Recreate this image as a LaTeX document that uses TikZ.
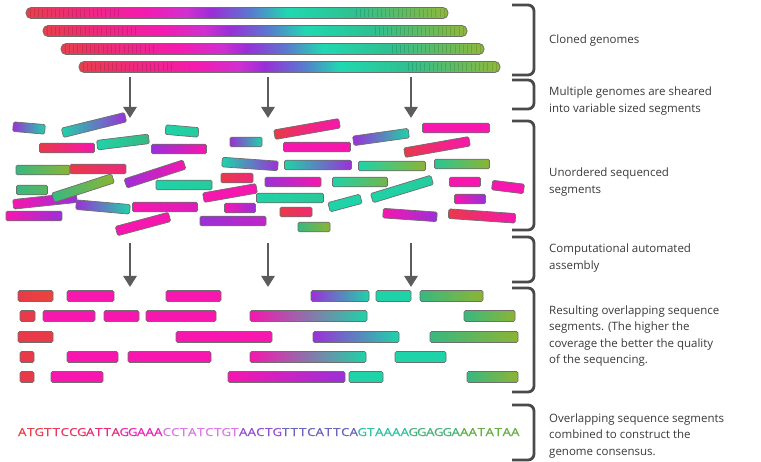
\documentclass[tikz,border=0pt]{standalone}
\usepackage{fontspec}
\newfontfamily\labelfont{Open Sans}
\newfontfamily\seqfont[FakeBold=0.5]{Open Sans}
\usetikzlibrary{arrows.meta}
% palette
\definecolor{cR}{HTML}{E83A48}
\definecolor{cM}{HTML}{F716AE}
\definecolor{cP}{HTML}{9B30D8}
\definecolor{cT}{HTML}{1ED3A8}
\definecolor{cG}{HTML}{38B880}
\definecolor{cO}{HTML}{8CB434}
\definecolor{bdr}{HTML}{6E6E6E}
\definecolor{ink}{HTML}{3A3A3A}
\definecolor{brk}{HTML}{4A4A4A}
% genome gradient
\definecolor{gA}{HTML}{E8404C}
\definecolor{gA2}{HTML}{EC2E72}
\definecolor{gM}{HTML}{F41AB0}
\definecolor{gMP}{HTML}{D030D0}
\definecolor{gP}{HTML}{9A2ED8}
\definecolor{gB}{HTML}{5A78D0}
\definecolor{gT}{HTML}{20D8B0}
\definecolor{gG}{HTML}{2EC090}
\definecolor{gO}{HTML}{90B838}
\pgfdeclarehorizontalshading{genome}{100bp}{color(0bp)=(gA); color(25bp)=(gA); color(30bp)=(gA2); color(39bp)=(gM); color(44bp)=(gMP); color(47bp)=(gP); color(51.5bp)=(gB); color(56bp)=(gT); color(64bp)=(gG); color(75bp)=(gO); color(100bp)=(gO)}
% sequence colours
\definecolor{sA}{HTML}{E8404A}
\definecolor{sB}{HTML}{E8307A}
\definecolor{sC}{HTML}{EC28B8}
\definecolor{sD}{HTML}{DC78E8}
\definecolor{sE}{HTML}{9550D2}
\definecolor{sF}{HTML}{6A64BC}
\definecolor{sG}{HTML}{2EC4A4}
\definecolor{sH}{HTML}{46B47A}
\definecolor{sI}{HTML}{64B040}

\tikzset{
  segbox/.style={draw=bdr, line width=0.7, rounded corners=1.5},
  barbox/.style={draw=bdr, line width=0.8, rounded corners=5, shading=genome},
  arr/.style={draw=brk!90!white, line width=2.6, -{Triangle[width=13,length=11]}},
  bracket/.style={draw=brk, line width=2.8, rounded corners=6},
  stripe/.style={black, opacity=0.13, line width=0.6},
  lab/.style={anchor=west, align=left, text=ink, inner sep=0,
    font={\labelfont\fontsize{11.5}{16.2}\selectfont}},
  seqch/.style={anchor=base, inner sep=0, font={\seqfont\fontsize{11}{12}\selectfont}}
}
% rotated segment: cx, cy, length, angle, shading keys
\newcommand\seg[5]{%
  \begin{scope}[shift={(#1,#2)},rotate=#4]
    \shadedraw[segbox,#5] ({-#3/2},-4.8) rectangle ({#3/2},4.8);
  \end{scope}}
% row segment: x1, x2, y, shading keys
\newcommand\rseg[4]{%
  \shadedraw[segbox,#4] (#1,{#3-5.5}) rectangle (#2,{#3+5.5});}
% genome bar: x1, x2, cy
\newcommand\genbar[3]{%
  \shadedraw[barbox] (#1,{#3-5.5}) rectangle (#2,{#3+5.5});
  \pgfmathtruncatemacro\gn{(0.22*(#2-#1)-4)/4.2}
  \foreach \k in {0,...,\gn} {
    \draw[stripe] ({#1+4+4.2*\k},{#3-4}) -- ({#1+4+4.2*\k},{#3+4});
    \draw[stripe] ({#2-4-4.2*\k},{#3-4}) -- ({#2-4-4.2*\k},{#3+4});
  }}

\begin{document}
\begin{tikzpicture}[x=1pt,y=-1pt]
\useasboundingbox[fill=white] (0,0) rectangle (761,462);

% cloned genomes
\genbar{26}{448}{13}
\genbar{43}{467}{31}
\genbar{61}{484}{49}
\genbar{79}{500}{67}

% arrows
\coordinate (a1s) at (130,77); \coordinate (a1e) at (130,118);
\coordinate (a2s) at (268,77); \coordinate (a2e) at (268,118);
\coordinate (a3s) at (411,77); \coordinate (a3e) at (411,118);
\coordinate (b1s) at (130,243); \coordinate (b1e) at (130,287);
\coordinate (b2s) at (268,243); \coordinate (b2e) at (268,287);
\coordinate (b3s) at (411,243); \coordinate (b3e) at (411,287);
\draw[arr] (a1s) -- (a1e);
\draw[arr] (a2s) -- (a2e);
\draw[arr] (a3s) -- (a3e);
\draw[arr] (b1s) -- (b1e);
\draw[arr] (b2s) -- (b2e);
\draw[arr] (b3s) -- (b3e);

% unordered segments
\seg{29}{128}{32}{-5}{left color=cP,right color=cT}
\seg{94}{125}{65}{14}{left color=cT,middle color=cT,right color=cP}
\seg{67}{148}{55}{0}{left color=cR,right color=cM}
\seg{123}{142}{52}{7}{left color=cT,right color=cG}
\seg{182}{131}{33}{-5}{left color=cT,right color=cT!75!cG}
\seg{179}{149}{55}{0}{left color=cP,right color=cM}
\seg{246}{142}{32}{0}{left color=cP,right color=cT}
\seg{43}{170}{54}{0}{left color=cG,right color=cO}
\seg{98}{169}{56}{0}{left color=cR,right color=cR!50!cM}
\seg{155}{174}{62}{18}{left color=cP,right color=cM}
\seg{184}{185}{56}{0}{left color=cT,right color=cT!70!cG}
\seg{237}{178}{32}{0}{left color=cR,right color=cR!50!cM}
\seg{250}{164}{56}{-4}{left color=cT,middle color=cT,right color=cP}
\seg{32}{190}{31}{0}{left color=cG,right color=cG!60!cO}
\seg{45}{201}{64}{6}{left color=cM,middle color=cM,right color=cP}
\seg{83}{188}{63}{18}{left color=cG,right color=cO}
\seg{103}{207}{54}{-5}{left color=cP,right color=cT}
\seg{165}{207}{65}{0}{left color=cM,right color=cM!70!cP}
\seg{230}{193}{54}{10}{left color=cM,right color=cM}
\seg{240}{208}{31}{0}{left color=cM,right color=cP}
\seg{34}{216}{56}{0}{left color=cM,right color=cP}
\seg{143}{224}{55}{15}{left color=cM,right color=cM}
\seg{233}{221}{66}{0}{left color=cP,right color=cP!60!cM}
\seg{307}{129}{66}{10}{left color=cR,right color=cM}
\seg{381}{137}{56}{8}{left color=cP,middle color=cT,right color=cT}
\seg{456}{128}{67}{0}{left color=cM,right color=cM}
\seg{317}{147}{67}{0}{left color=cM,right color=cM}
\seg{437}{147}{66}{10}{left color=cR,right color=cM}
\seg{318}{165}{67}{0}{left color=cT,middle color=cT,right color=cP}
\seg{392}{166}{67}{0}{left color=cT,right color=cO}
\seg{462}{164}{55}{0}{left color=cT!50!cG,right color=cO}
\seg{293}{182}{56}{0}{left color=cP,right color=cM}
\seg{360}{182}{55}{0}{left color=cT,right color=cO!70!cG}
\seg{402}{189}{63}{17}{left color=cT,right color=cT!70!cG}
\seg{465}{182}{31}{0}{left color=cM,right color=cM}
\seg{508}{187}{32}{-7}{left color=cM,right color=cM}
\seg{290}{198}{67}{0}{left color=cT,right color=cT!60!cG}
\seg{345}{203}{33}{15}{left color=cT,right color=cT}
\seg{470}{199}{31}{0}{left color=cM,right color=cP}
\seg{296}{212}{32}{0}{left color=cR,right color=cR!60!cM}
\seg{410}{215}{54}{-4}{left color=cM,right color=cP}
\seg{482}{216}{67}{-4}{left color=cR,right color=cM}
\seg{314}{227}{32}{0}{left color=cG,right color=cO}

% overlapping segments
\rseg{18}{53}{296}{left color=cR,right color=cR!85!orange}
\rseg{67}{114}{296}{left color=cM,right color=cM}
\rseg{166}{221}{296}{left color=cM,right color=cM}
\rseg{311}{369}{296}{left color=cP,middle color=cP!60!cT,right color=cT}
\rseg{376}{411}{296}{left color=cT,right color=cT}
\rseg{420}{483}{296}{left color=cG,right color=cO}
\rseg{20}{35}{316}{left color=cR,right color=cR}
\rseg{43}{95}{316}{left color=cM,right color=cM}
\rseg{104}{139}{316}{left color=cM,right color=cM}
\rseg{146}{216}{316}{left color=cM,right color=cM}
\rseg{250}{367}{316}{left color=cM,middle color=cP,right color=cT}
\rseg{464}{515}{316}{left color=cG,right color=cO}
\rseg{18}{53}{337}{left color=cR,right color=cR}
\rseg{176}{272}{337}{left color=cM,right color=cM}
\rseg{313}{399}{337}{left color=cP,middle color=cP!50!cT,right color=cT}
\rseg{430}{518}{337}{left color=cG,right color=cO}
\rseg{20}{34}{357}{left color=cR,right color=cR}
\rseg{67}{118}{357}{left color=cM,right color=cM}
\rseg{128}{211}{357}{left color=cM,right color=cM}
\rseg{250}{366}{357}{left color=cM,middle color=cP,right color=cT}
\rseg{395}{446}{357}{left color=cT,right color=cT}
\rseg{20}{34}{377}{left color=cR,right color=cR}
\rseg{51}{103}{377}{left color=cM,right color=cM}
\rseg{228}{345}{377}{left color=cM,right color=cP}
\rseg{349}{383}{377}{left color=cT,right color=cT}
\rseg{467}{518}{377}{left color=cG,right color=cO}

% consensus sequence
\foreach \ch/\cc [count=\i] in {A/sA,T/sA,G/sA,T/sA!70!sB,T/sA!70!sB,C/sA!40!sB,C/sA!40!sB,G/sA!40!sB,A/sB,T/sB,T/sB,A/sB,
  G/sC,G/sC,A/sC,A/sC,A/sC,C/sD,C/sD,T/sD,A/sD,T/sD,C/sD,T/sD,G/sD,T/sD,
  A/sE,A/sE,C/sE,T/sE,G/sE,T/sF,T/sF,T/sF,C/sF,A/sF,T/sF,T/sF,C/sF,A/sF,
  G/sG,T/sG,A/sG,A/sG,A/sG,A/sG,G/sH,G/sH,A/sH,G/sH,G/sH,A/sH,A/sI,A/sI,T/sI,A/sI,T/sI,A/sI,A/sI}
  \node[seqch, text=\cc] (q\i) at ({13.75+8.5*\i},436) {\scalebox{1.2}[1]{\ch}};

% brackets
\draw[bracket] (512,5) -- (534,5) -- (534,75) -- (512,75);
\draw[bracket] (512,80) -- (534,80) -- (534,109) -- (512,109);
\draw[bracket] (512,121) -- (534,121) -- (534,230) -- (512,230);
\draw[bracket] (512,237) -- (534,237) -- (534,282) -- (512,282);
\draw[bracket] (512,288) -- (534,288) -- (534,392) -- (512,392);
\draw[bracket] (512,405) -- (534,405) -- (534,460) -- (512,460);

% labels
\node[lab] (l1) at (549,41) {Cloned genomes};
\node[lab] (l2) at (549,101) {Multiple genomes are sheared\\into variable sized segments};
\node[lab] (l3) at (549,182) {Unordered sequenced\\segments};
\node[lab] (l4) at (549,258) {Computational automated\\assembly};
\node[lab] (l5) at (549,336) {Resulting overlapping sequence\\segments. (The higher the\\coverage the better the quality\\of the sequencing.};
\node[lab] (l6) at (549,436) {Overlapping sequence segments\\combined to construct the\\genome consensus.};
\end{tikzpicture}
\end{document}
